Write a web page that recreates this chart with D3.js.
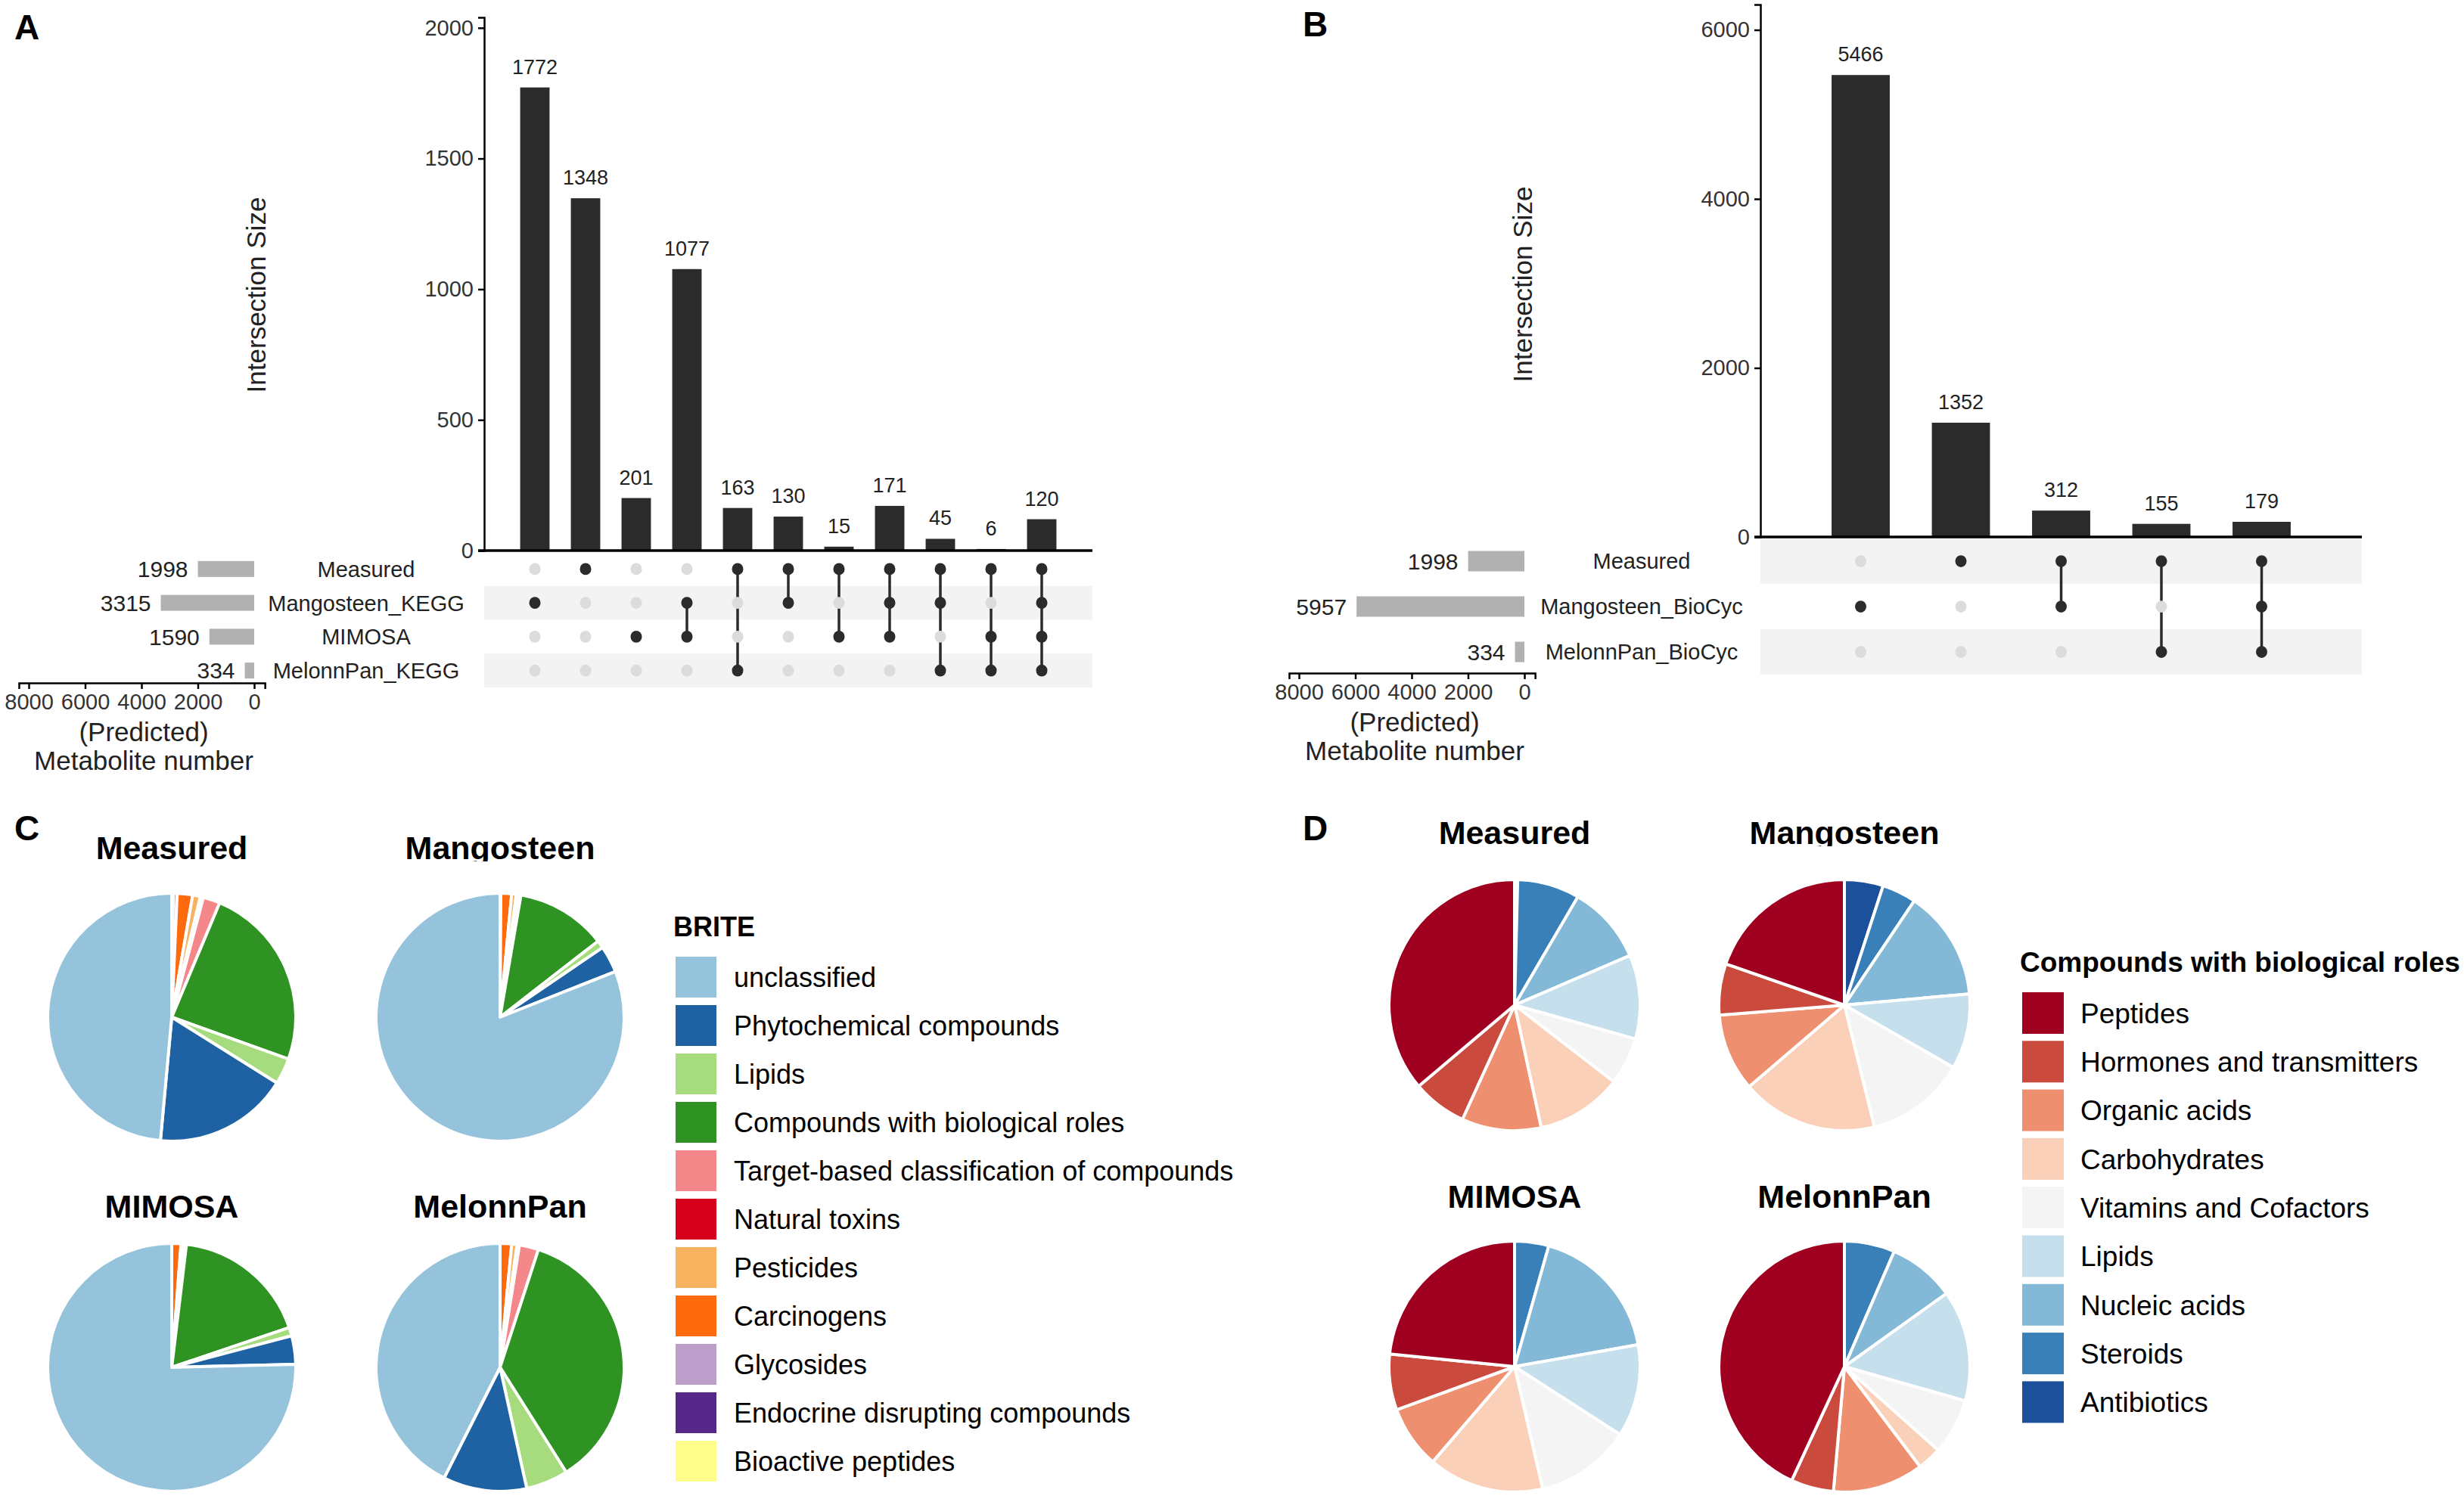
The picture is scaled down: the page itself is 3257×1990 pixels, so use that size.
<!DOCTYPE html>
<html>
<head>
<meta charset="utf-8">
<script src="https://cdn.jsdelivr.net/npm/d3@7"></script>
<style>
  body { margin: 0; background: #fff; }
  text { font-family: "Liberation Sans", Arial, sans-serif; }
</style>
</head>
<body>
<svg id="fig" width="3257" height="1990"></svg>
<script>
// ---- data: panel A ----
const setsA = ["Measured", "Mangosteen_KEGG", "MIMOSA", "MelonnPan_KEGG"];
const setSizesA = [1998, 3315, 1590, 334];
const interSizesA = [1772, 1348, 201, 1077, 163, 130, 15, 171, 45, 6, 120];
const interSetsA = [
  ["Mangosteen_KEGG"], ["Measured"], ["MIMOSA"], ["Mangosteen_KEGG", "MIMOSA"],
  ["Measured", "MelonnPan_KEGG"], ["Measured", "Mangosteen_KEGG"], ["Measured", "MIMOSA"],
  ["Measured", "Mangosteen_KEGG", "MIMOSA"], ["Measured", "Mangosteen_KEGG", "MelonnPan_KEGG"],
  ["Measured", "MIMOSA", "MelonnPan_KEGG"], ["Measured", "Mangosteen_KEGG", "MIMOSA", "MelonnPan_KEGG"]
];
const ticksA = [0, 500, 1000, 1500, 2000];

// ---- data: panel B ----
const setsB = ["Measured", "Mangosteen_BioCyc", "MelonnPan_BioCyc"];
const setSizesB = [1998, 5957, 334];
const interSizesB = [5466, 1352, 312, 155, 179];
const interSetsB = [
  ["Mangosteen_BioCyc"], ["Measured"], ["Measured", "Mangosteen_BioCyc"],
  ["Measured", "MelonnPan_BioCyc"], ["Measured", "Mangosteen_BioCyc", "MelonnPan_BioCyc"]
];
const ticksB = [0, 2000, 4000, 6000];
const sizeTicks = [0, 2000, 4000, 6000, 8000];

// ---- data: panel C (BRITE), legend order ----
const briteCats = ["unclassified", "Phytochemical compounds", "Lipids", "Compounds with biological roles",
  "Target-based classification of compounds", "Natural toxins", "Pesticides", "Carcinogens",
  "Glycosides", "Endocrine disrupting compounds", "Bioactive peptides"];
const briteColors = ["#96c3dc", "#1f62a4", "#a6dc7e", "#2e9322", "#f4878a", "#d6001c",
  "#f9b360", "#fe6b0f", "#bca0cb", "#57278a", "#fefd8b"];
const briteMeasured   = [48.4, 17.5, 3.4, 24.1, 2.2, 0.4, 1.0, 2.0, 0.5, 0.2, 0];
const briteMangosteen = [81.0, 3.5, 1.0, 11.8, 0.4, 0.2, 0.6, 1.4, 0.1, 0, 0];
const briteMimosa     = [75.4, 3.7, 1.1, 17.9, 0.2, 0.1, 0.4, 1.2, 0, 0, 0];
const briteMelonnpan  = [42.5, 10.9, 5.5, 36.0, 2.5, 0.3, 0.7, 1.5, 0, 0, 0];

// ---- data: panel D (biological roles), legend order ----
const roleCats = ["Peptides", "Hormones and transmitters", "Organic acids", "Carbohydrates",
  "Vitamins and Cofactors", "Lipids", "Nucleic acids", "Steroids", "Antibiotics"];
const roleColors = ["#a0001f", "#ca4a3e", "#ee9070", "#fbd0b8", "#f4f4f4",
  "#c6dfed", "#83b8d7", "#3980b8", "#1d509b"];
const roleMeasured   = [36.1, 7.0, 10.2, 11.1, 6.1, 10.8, 10.1, 8.0, 0.4];
const roleMangosteen = [19.7, 6.6, 10.0, 17.6, 12.9, 9.7, 14.2, 4.4, 5.0];
const roleMimosa     = [23.4, 7.2, 8.1, 14.9, 12.3, 11.9, 17.8, 4.4, 0];
const roleMelonnpan  = [43.1, 5.5, 11.7, 3.1, 7.2, 14.3, 8.6, 6.5, 0];

const svg = d3.select("#fig");
svg.append("rect").attr("width", 3257).attr("height", 1990).attr("fill", "#fff");
const fmt = d3.format("d");

function panelLabel(txt, x, y) {
  svg.append("text").attr("x", x).attr("y", y).text(txt)
    .attr("font-size", 46).attr("font-weight", "bold").attr("fill", "#000");
}

function drawUpset(o) {
  const g = svg.append("g");
  const y = d3.scaleLinear().domain([0, o.yMax]).range([o.y0, o.yTopPx]);
  const x = d3.scaleBand().domain(d3.range(o.sizes.length)).range([o.x0, o.x1])
    .paddingInner(0.42).paddingOuter(0.71);
  const rows = d3.scaleBand().domain(o.sets).range([o.y0 + 2, o.mBottom]);
  const cx = i => x(i) + x.bandwidth() / 2;
  const cy = s => rows(s) + rows.bandwidth() / 2;

  // shaded matrix rows
  g.selectAll("rect.band").data(o.sets.filter((s, i) => o.shade[i])).enter().append("rect")
    .attr("x", o.x0).attr("width", o.x1 - o.x0)
    .attr("y", d => rows(d)).attr("height", rows.bandwidth())
    .attr("fill", "#f3f3f3");

  // intersection bars
  g.selectAll("rect.bar").data(o.sizes).enter().append("rect")
    .attr("x", (d, i) => x(i)).attr("width", x.bandwidth())
    .attr("y", d => y(d)).attr("height", d => o.y0 - y(d))
    .attr("fill", "#2b2b2b");
  g.selectAll("text.val").data(o.sizes).enter().append("text")
    .attr("x", (d, i) => cx(i)).attr("y", d => y(d) - 18)
    .attr("text-anchor", "middle").attr("font-size", 27).attr("fill", "#222")
    .text(d => d);

  // y axis
  const ya = g.append("g").attr("transform", `translate(${o.x0},0)`)
    .call(d3.axisLeft(y).tickValues(o.ticks).tickFormat(fmt).tickSizeOuter(0).tickSize(8).tickPadding(6));
  ya.select(".domain").attr("stroke", "#000").attr("stroke-width", 2.5);
  ya.selectAll(".tick line").attr("stroke", "#000").attr("stroke-width", 2.5);
  ya.selectAll(".tick text").attr("font-size", 29).attr("fill", "#333")
    .attr("font-family", "Liberation Sans, Arial, sans-serif");
  // baseline
  g.append("line").attr("x1", o.x0 - 8).attr("x2", o.x1).attr("y1", o.y0).attr("y2", o.y0)
    .attr("stroke", "#000").attr("stroke-width", 3.5);

  g.append("text").attr("transform", `translate(${o.titleX},${o.titleY}) rotate(-90)`)
    .attr("text-anchor", "middle").attr("font-size", 35).attr("fill", "#222")
    .text("Intersection Size");

  // matrix
  o.sizes.forEach((v, i) => {
    const act = o.combos[i];
    const ys = act.map(cy);
    if (act.length > 1) {
      g.append("line").attr("x1", cx(i)).attr("x2", cx(i))
        .attr("y1", d3.min(ys)).attr("y2", d3.max(ys))
        .attr("stroke", "#2b2b2b").attr("stroke-width", 3.5);
    }
    o.sets.forEach(s => {
      g.append("ellipse").attr("cx", cx(i)).attr("cy", cy(s)).attr("rx", o.dot).attr("ry", o.dot * 1.05)
        .attr("fill", act.includes(s) ? "#2b2b2b" : "#dcdcdc");
    });
  });

  // set sizes
  const xs = d3.scaleLinear().domain([0, 8000]).range([o.s0, o.s8]);
  const xsAxis = d3.scaleLinear().domain([8350, -380]).range([xs(8350), xs(-380)]);
  g.selectAll("rect.set").data(o.setSizes).enter().append("rect")
    .attr("x", d => xs(d)).attr("width", d => xs(0) - xs(d))
    .attr("y", (d, i) => cy(o.sets[i]) - o.setBarH / 2).attr("height", o.setBarH)
    .attr("fill", "#b1b1b1");
  g.selectAll("text.setval").data(o.setSizes).enter().append("text")
    .attr("x", d => xs(d) - 13).attr("y", (d, i) => cy(o.sets[i])).attr("dy", "0.36em")
    .attr("text-anchor", "end").attr("font-size", 30).attr("fill", "#222").text(d => d);
  g.selectAll("text.setname").data(o.sets).enter().append("text")
    .attr("x", o.nameX).attr("y", d => cy(d)).attr("dy", "0.36em")
    .attr("text-anchor", "middle").attr("font-size", 29).attr("fill", "#222").text(d => d);
  const xa = g.append("g").attr("transform", `translate(0,${o.sAxisY})`)
    .call(d3.axisBottom(xsAxis).tickValues(sizeTicks).tickFormat(fmt).tickSizeOuter(0).tickSize(8).tickPadding(6));
  xa.select(".domain").attr("stroke", "#000").attr("stroke-width", 2.5);
  xa.selectAll(".tick line").attr("stroke", "#000").attr("stroke-width", 2.5);
  xa.selectAll(".tick text").attr("font-size", 29).attr("fill", "#333")
    .attr("font-family", "Liberation Sans, Arial, sans-serif");
  g.append("text").attr("x", o.metaX).attr("y", o.sAxisY + 77).attr("text-anchor", "middle")
    .attr("font-size", 35).attr("fill", "#222").text("(Predicted)");
  g.append("text").attr("x", o.metaX).attr("y", o.sAxisY + 115).attr("text-anchor", "middle")
    .attr("font-size", 35).attr("fill", "#222").text("Metabolite number");
}

panelLabel("A", 19, 52);
drawUpset({
  sets: setsA, setSizes: setSizesA, sizes: interSizesA, combos: interSetsA, ticks: ticksA,
  shade: [false, true, false, true],
  yMax: 2040, y0: 728, yTopPx: 23, x0: 640, x1: 1444, mBottom: 909, dot: 7.5,
  s0: 336, s8: 38, setBarH: 21, nameX: 484, sAxisY: 903, metaX: 190,
  titleX: 351, titleY: 390
});

panelLabel("B", 1722, 48);
drawUpset({
  sets: setsB, setSizes: setSizesB, sizes: interSizesB, combos: interSetsB, ticks: ticksB,
  shade: [true, false, true],
  yMax: 6300, y0: 710, yTopPx: 6, x0: 2327, x1: 3122, mBottom: 892, dot: 7.5,
  s0: 2015, s8: 1717, setBarH: 27, nameX: 2170, sAxisY: 890, metaX: 1870,
  titleX: 2025, titleY: 376
});

// ---- pies ----
const pie = d3.pie().sort(null).value(d => d.v);

function drawPie(cx, cy, r, values, colors, cats, title, titleY, clipTitle) {
  const g = svg.append("g").attr("transform", `translate(${cx},${cy})`);
  const data = values.map((v, i) => ({ v, c: colors[i], k: cats[i] })).reverse().filter(d => d.v > 0);
  const arc = d3.arc().innerRadius(0).outerRadius(r);
  g.selectAll("path").data(pie(data)).enter().append("path")
    .attr("d", arc).attr("fill", d => d.data.c)
    .attr("stroke", "#fff").attr("stroke-width", 4).attr("stroke-linejoin", "round");
  const t = svg.append("text").attr("x", cx).attr("y", titleY).attr("text-anchor", "middle")
    .attr("font-size", 43).attr("font-weight", "bold").attr("fill", "#000").text(title);
  if (clipTitle) {
    const id = "clip" + Math.round(cx) + "_" + Math.round(titleY);
    svg.append("clipPath").attr("id", id).append("rect")
      .attr("x", cx - 200).attr("y", titleY - 60).attr("width", 400).attr("height", 63);
    t.attr("clip-path", `url(#${id})`);
  }
}

function drawLegend(x, y, title, cats, colors, keyTop, step, keyW, fs) {
  svg.append("text").attr("x", x).attr("y", y).text(title)
    .attr("font-size", fs).attr("font-weight", "bold").attr("fill", "#000");
  cats.forEach((c, i) => {
    svg.append("rect").attr("x", x + 3).attr("y", keyTop + i * step)
      .attr("width", keyW).attr("height", keyW).attr("fill", colors[i]);
    svg.append("text").attr("x", x + 80).attr("y", keyTop + i * step + keyW / 2).attr("dy", "0.36em")
      .attr("font-size", fs).attr("fill", "#000").text(c);
  });
}

panelLabel("C", 19, 1111);
drawPie(227, 1345, 164, briteMeasured, briteColors, briteCats, "Measured", 1136, false);
drawPie(661, 1345, 164, briteMangosteen, briteColors, briteCats, "Mangosteen", 1136, true);
drawPie(227, 1808, 164, briteMimosa, briteColors, briteCats, "MIMOSA", 1610, false);
drawPie(661, 1808, 164, briteMelonnpan, briteColors, briteCats, "MelonnPan", 1610, false);
drawLegend(890, 1238, "BRITE", briteCats, briteColors, 1265, 64, 54, 36);

panelLabel("D", 1722, 1111);
drawPie(2002, 1329, 166, roleMeasured, roleColors, roleCats, "Measured", 1116, false);
drawPie(2438, 1329, 166, roleMangosteen, roleColors, roleCats, "Mangosteen", 1116, true);
drawPie(2002, 1807, 166, roleMimosa, roleColors, roleCats, "MIMOSA", 1597, false);
drawPie(2438, 1807, 166, roleMelonnpan, roleColors, roleCats, "MelonnPan", 1597, false);
drawLegend(2670, 1285, "Compounds with biological roles", roleCats, roleColors, 1312, 64.3, 55, 37);
</script>
</body>
</html>
